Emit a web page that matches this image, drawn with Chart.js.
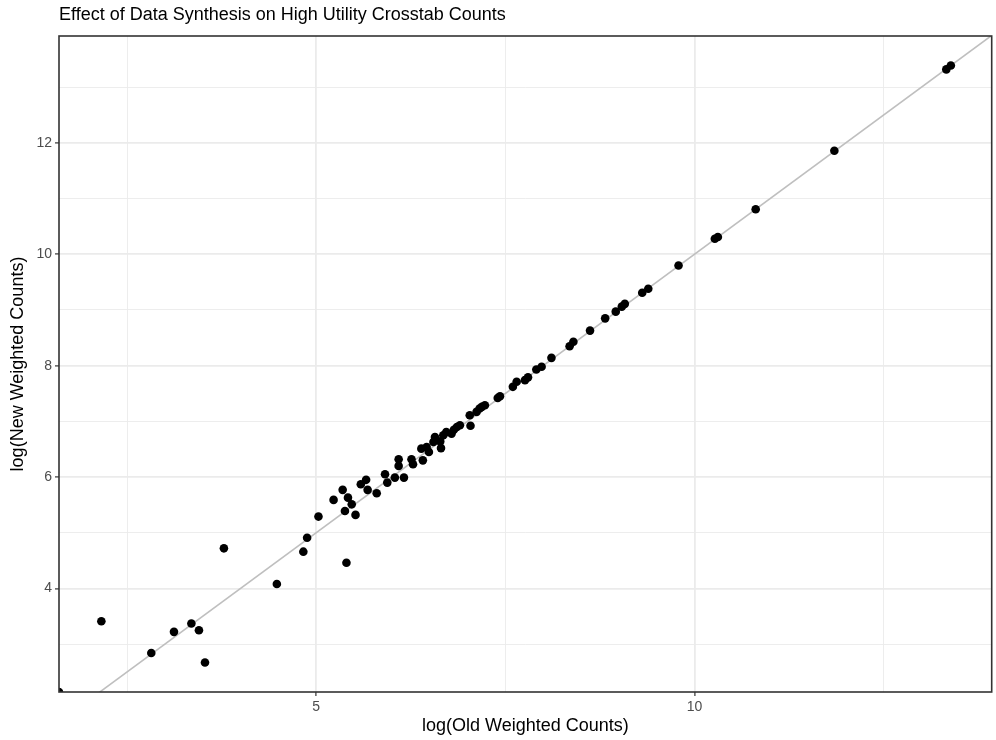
<!DOCTYPE html>
<html>
<head>
<meta charset="utf-8">
<script src="https://cdn.jsdelivr.net/npm/chart.js@4/dist/chart.umd.min.js"></script>
<style>
  html,body{margin:0;padding:0;background:#fff;}
  #wrap{width:996px;height:740px;}
</style>
</head>
<body>
<div id="wrap"><canvas id="chart" width="996" height="740"></canvas></div>
<script>
// DATA (log weighted counts, old vs new)
const oldCounts = [
  1.60, 2.16, 2.82, 3.12, 3.35, 3.45, 3.53, 3.78, 4.48, 4.83,
  4.88, 5.03, 5.23, 5.35, 5.38, 5.40, 5.42, 5.47, 5.52, 5.59,
  5.66, 5.68, 5.80, 5.91, 5.94, 6.04, 6.09, 6.09, 6.16, 6.26,
  6.28, 6.41, 6.39, 6.46, 6.49, 6.55, 6.57, 6.64, 6.65, 6.68,
  6.72, 6.79, 6.82, 6.86, 6.90, 7.04, 7.03, 7.12, 7.16, 7.19,
  7.23, 7.40, 7.43, 7.60, 7.65, 7.76, 7.80, 7.91, 7.98, 8.11,
  8.35, 8.40, 8.62, 8.82, 8.96, 9.04, 9.08, 9.31, 9.39, 9.79,
  10.27, 10.31, 10.81, 11.85, 13.33, 13.39
];
const newCounts = [
  2.14, 3.41, 2.84, 3.22, 3.37, 3.25, 2.67, 4.72, 4.08, 4.66,
  4.91, 5.29, 5.59, 5.77, 5.39, 4.46, 5.63, 5.51, 5.32, 5.87,
  5.95, 5.77, 5.71, 6.05, 5.90, 5.99, 6.32, 6.20, 5.99, 6.32,
  6.23, 6.30, 6.51, 6.54, 6.45, 6.63, 6.72, 6.64, 6.52, 6.75,
  6.81, 6.78, 6.85, 6.90, 6.93, 6.92, 7.11, 7.17, 7.23, 7.26,
  7.29, 7.42, 7.45, 7.62, 7.71, 7.74, 7.79, 7.93, 7.98, 8.14,
  8.35, 8.43, 8.63, 8.85, 8.97, 9.06, 9.11, 9.31, 9.38, 9.80,
  10.28, 10.31, 10.81, 11.86, 13.32, 13.39
];
// reference line y = x
const diagonal = [0, 15];

// AXES
const xLimits = [1.60, 13.93];
const yLimits = [2.14, 13.92];
const xGrid = [2.5, 5, 7.5, 10, 12.5];
const xMajor = [5, 10];
const yGrid = [3, 4, 5, 6, 7, 8, 9, 10, 11, 12, 13];
const yMajor = [4, 6, 8, 10, 12];

const FONT = "'Liberation Sans', Arial, sans-serif";

// PANEL BORDER
const panelBorder = {
  id: "panelBorder",
  afterDraw(c){
    const a = c.chartArea, ctx = c.ctx;
    ctx.save();
    ctx.strokeStyle = "#333333";
    ctx.lineWidth = 1.6;
    ctx.strokeRect(a.left, a.top, a.right - a.left, a.bottom - a.top);
    ctx.restore();
  }
};

function axis(limits, grid, major, titleText, titlePad, fit){
  return {
    type: "linear",
    min: limits[0],
    max: limits[1],
    afterBuildTicks: s => { s.ticks = grid.map(v => ({value: v})); },
    afterFit: fit,
    border: {display: false},
    grid: {
      color: "#ebebeb",
      lineWidth: c => major.includes(c.tick && c.tick.value) ? 1.8 : 0.9,
      drawTicks: true,
      tickLength: 4,
      tickWidth: 1.2,
      tickColor: c => major.includes(c.tick && c.tick.value) ? "#333333" : "rgba(0,0,0,0)"
    },
    ticks: {
      autoSkip: false,
      maxRotation: 0,
      padding: 3,
      color: "#4d4d4d",
      font: {family: FONT, size: 14},
      callback: v => major.includes(v) ? String(v) : ""
    },
    title: {
      display: true,
      text: titleText,
      color: "#000000",
      font: {family: FONT, size: 18},
      padding: titlePad
    }
  };
}

const chart = new Chart(document.getElementById("chart"), {
  type: "scatter",
  data: {
    datasets: [
      {
        type: "line",
        data: diagonal.map(v => ({x: v, y: v})),
        borderColor: "#bfbfbf",
        borderWidth: 1.6,
        pointRadius: 0,
        clip: 0,
        order: 2
      },
      {
        data: oldCounts.map((v, i) => ({x: v, y: newCounts[i]})),
        backgroundColor: "#000000",
        borderColor: "#000000",
        pointRadius: 4.3,
        pointBorderWidth: 0,
        clip: 0,
        order: 1
      }
    ]
  },
  options: {
    responsive: false,
    animation: false,
    layout: {padding: {left: 0, right: 4, top: 0, bottom: 0}},
    plugins: {
      legend: {display: false},
      tooltip: {enabled: false},
      title: {
        display: true,
        text: "Effect of Data Synthesis on High Utility Crosstab Counts",
        align: "start",
        fullSize: false,
        color: "#000000",
        font: {family: FONT, size: 18, weight: "normal"},
        padding: {top: 4, bottom: 10.4}
      }
    },
    scales: {
      x: axis(xLimits, xGrid, xMajor, "log(Old Weighted Counts)", {top: 0, bottom: 3},
        s => { s.height = 48; }),
      y: axis(yLimits, yGrid, yMajor, "log(New Weighted Counts)", {top: 7, bottom: 0},
        s => { s.width = 59; })
    }
  },
  plugins: [panelBorder]
});
</script>
</body>
</html>
